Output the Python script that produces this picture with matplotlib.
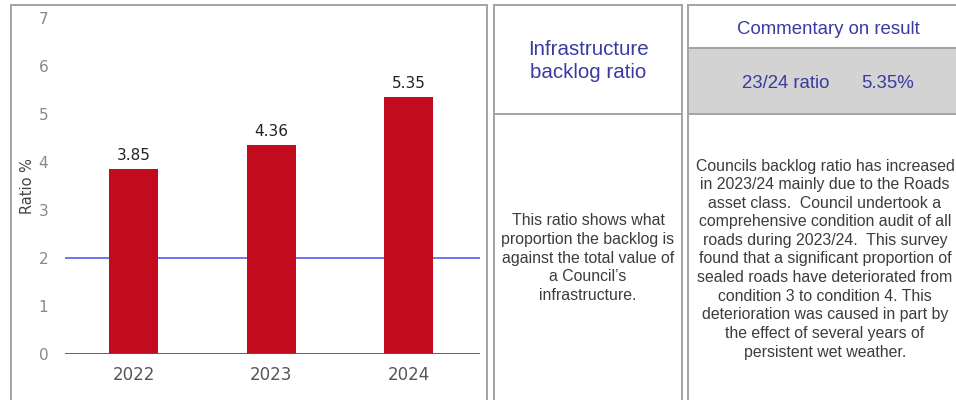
import matplotlib.pyplot as plt
from matplotlib.lines import Line2D
from matplotlib.patches import Rectangle

# chart data
years = ['2022', '2023', '2024']
ratios = [3.85, 4.36, 5.35]
benchmark = 2
yticks = [0, 1, 2, 3, 4, 5, 6, 7]

# table text
title_text = 'Infrastructure\nbacklog ratio'
comment_head = 'Commentary on result'
result_label = '23/24 ratio'
result_value = '5.35%'
desc_lines = ['This ratio shows what', 'proportion the backlog is',
              'against the total value of', 'a Council\u2019s', 'infrastructure.']
comment_lines = ['Councils backlog ratio has increased',
                 'in 2023/24 mainly due to the Roads',
                 'asset class.  Council undertook a',
                 'comprehensive condition audit of all',
                 'roads during 2023/24.  This survey',
                 'found that a significant proportion of',
                 'sealed roads have deteriorated from',
                 'condition 3 to condition 4. This',
                 'deterioration was caused in part by',
                 'the effect of several years of',
                 'persistent wet weather.']

W, H = 956, 400


def px(x):
    return x / W


def py(y):
    return 1 - y / H


fig = plt.figure(figsize=(W / 100, H / 100), dpi=100)

# bar chart
ax = fig.add_axes([px(65), py(354), px(480) - px(65), py(18) - py(354)])
x = range(len(years))
ax.bar(x, ratios, width=0.355, color='#c20b1c', zorder=2)
ax.axhline(benchmark, color='#5a5af0', lw=1.2, zorder=1)
ax.axhline(0, color='#555555', lw=1.3, zorder=3)
for i, v in zip(x, ratios):
    ax.text(i, v + 0.12, f'{v:.2f}', ha='center', va='bottom',
            fontsize=11, color='#222222')
ax.set_xlim(-0.5, 2.52)
ax.set_ylim(0, 7)
ax.set_xticks(list(x))
ax.set_xticklabels(years, fontsize=12, color='#555555')
ax.set_yticks(yticks)
ax.set_yticklabels([str(t) for t in yticks], fontsize=11, color='#888888')
ax.tick_params(length=0)
ax.tick_params(axis='x', pad=9)
ax.tick_params(axis='y', pad=12)
for s in ax.spines.values():
    s.set_visible(False)
ax.set_ylabel('Ratio %', fontsize=10.5, color='#444444')
ax.yaxis.set_label_coords(-0.072, 0.5)

border = '#a3a3a3'
lw = 1.4


def vline(xp, y0, y1):
    fig.add_artist(Line2D([px(xp), px(xp)], [py(y0), py(y1)],
                          transform=fig.transFigure, color=border, lw=lw))


def hline(x0, x1, yp):
    fig.add_artist(Line2D([px(x0), px(x1)], [py(yp), py(yp)],
                          transform=fig.transFigure, color=border, lw=lw))


# chart frame
vline(11, 4.5, 401)
vline(486.5, 4.5, 401)
hline(11, 486.5, 4.5)

# table column 1
vline(493.5, 5, 401)
vline(681.5, 5, 401)
hline(493.5, 681.5, 5)
hline(493.5, 681.5, 114)

# table column 2
fig.add_artist(Rectangle((px(688), py(114)), px(960) - px(688), py(48) - py(114),
                         transform=fig.transFigure, facecolor='#d3d3d3',
                         edgecolor='none'))
vline(688, 5, 401)
hline(688, 960, 5)
hline(688, 960, 48)
hline(688, 960, 114)

blue = '#3a3aa2'
body = '#3c3c3c'
font = 'Liberation Sans'

fig.text(px(588), py(61), title_text, ha='center', va='center', fontsize=14.8,
         color=blue, family=font, linespacing=1.33)
fig.text(px(828), py(29), comment_head, ha='center', va='center', fontsize=13.4,
         color=blue, family=font)
fig.text(px(742), py(83), result_label, ha='left', va='center', fontsize=13.4,
         color=blue, family=font)
fig.text(px(861), py(83), result_value, ha='left', va='center', fontsize=13.4,
         color=blue, family=font)
fig.text(px(588), py(258), '\n'.join(desc_lines), ha='center', va='center',
         fontsize=11.4, color=body, family=font, linespacing=1.3)
fig.text(px(825), py(259), '\n'.join(comment_lines), ha='center', va='center',
         fontsize=11.4, color=body, family=font, linespacing=1.3)

fig.savefig('out.png', dpi=100)
